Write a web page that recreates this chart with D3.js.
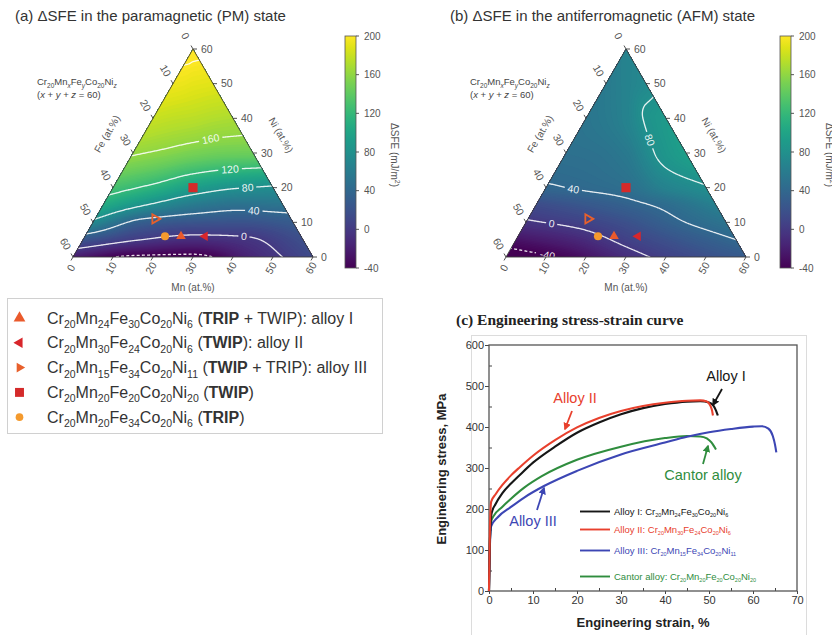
<!DOCTYPE html>
<html>
<head>
<meta charset="utf-8">
<script src="https://cdn.jsdelivr.net/npm/d3@7/dist/d3.min.js"></script>
<style>
  html, body { margin: 0; padding: 0; background: #fff; }
  svg { display: block; font-family: "Liberation Sans", Arial, Helvetica, sans-serif; }
</style>
</head>
<body>
<svg id="fig" width="832" height="635" viewBox="0 0 832 635"></svg>
<script>
// ---------- ΔSFE maps (mJ/m²) over the Cr20MnxFeyCo20Niz section (x + y + z = 60) ----------
// rows: Ni content (at.%); columns: Mn share of the remaining Mn + Fe (0 = Fe side, 1 = Mn side)
const niLevels = [0, 5, 10, 15, 20, 30, 40, 50, 60];
const mnShare = [0, 0.25, 0.5, 0.75, 1];
const sfePM = [
  [-22, -44, -46, -14, 14],
  [23, 1, -9, -3, 18],
  [73, 31, 23, 21, 28],
  [106, 79, 58, 49, 52],
  [129, 114, 94, 82, 77],
  [162, 157, 151, 147, 146],
  [180, 177, 175, 172, 170],
  [194, 193, 191, 190, 189],
  [205, 205, 205, 205, 205]
];
const sfeAFM = [
  [-52, -37, -9, 12, 28],
  [-28, -15, 6, 24, 40],
  [-3, 6, 19, 37, 52],
  [15, 24, 34, 46, 64],
  [38, 42, 47, 66, 78],
  [48, 50, 57, 81, 95],
  [53, 58, 66, 82, 90],
  [58, 62, 66, 70, 74],
  [66, 66, 66, 66, 66]
];
const levelsPM = [-40, 0, 40, 80, 120, 160, 200];
const levelsAFM = [-40, 0, 40, 80];
// inline contour labels: [level, Mn, Ni]
const labelsPM = [[160, 16.6, 35.2], [120, 25.8, 26.8], [80, 33.5, 20.3], [40, 38.5, 13.4], [0, 39.7, 6.1]];
const labelsAFM = [[80, 19.2, 33.8], [40, 6.8, 20.5], [0, 6.5, 9.9], [-40, 9.8, 1.5]];
const ternaryTicks = [0, 10, 20, 30, 40, 50, 60];
const colorbarTicks = [-40, 0, 40, 80, 120, 160, 200];

// ---------- alloys ----------
const alloyMn = [24, 30, 15, 20, 20];
const alloyFe = [30, 24, 34, 20, 34];
const alloyNi = [6, 6, 11, 20, 6];
const alloyMain = ["TRIP", "TWIP", "TWIP", "TWIP", "TRIP"];
const alloyAlso = ["TWIP", "", "TRIP", "", ""];
const alloyTag = ["alloy I", "alloy II", "alloy III", "", ""];
const alloySymbol = ["tri-up", "tri-left", "tri-right", "square", "circle"];
const alloyColor = ["#ea5a2c", "#d8262b", "#e8602c", "#d42a2a", "#f49a2e"];

// ---------- engineering stress-strain curves ----------
const curveNames = ["Alloy I", "Alloy II", "Alloy III", "Cantor alloy"];
const curveColors = ["#161616", "#e8402d", "#3c46b4", "#2f8d3e"];
const curveMn = [24, 30, 15, 20];
const curveFe = [30, 24, 34, 20];
const curveNi = [6, 6, 11, 20];
const strainI   = [0, 0.2, 0.6, 1.5, 3, 5, 7, 10, 15, 20, 25, 30, 35, 40, 45, 48, 50, 51, 51.6, 52];
const stressI   = [0, 120, 190, 212, 238, 262, 283, 313, 352, 386, 411, 431, 446, 456, 462, 463, 460, 452, 440, 428];
const strainII  = [0, 0.2, 0.5, 1.5, 3, 5, 7, 10, 15, 20, 25, 30, 35, 40, 45, 48, 49.5, 50.3, 50.7, 50.9];
const stressII  = [0, 150, 218, 236, 258, 282, 302, 330, 368, 399, 422, 439, 451, 459, 464, 465, 462, 452, 440, 428];
const strainIII = [0, 0.2, 0.5, 2, 5, 8, 12.5, 20, 30, 40, 45, 50, 55, 60, 62, 63.5, 64.5, 65, 65.3];
const stressIII = [0, 110, 158, 180, 205, 228, 256, 293, 333, 362, 376, 387, 395, 401, 402, 396, 378, 357, 338];
const strainCan = [0, 0.2, 0.5, 1, 3, 5, 8, 12, 20, 30, 40, 45, 48, 49.5, 50.5, 51.2, 51.6];
const stressCan = [0, 120, 170, 182, 205, 225, 252, 280, 320, 352, 373, 378, 377, 372, 363, 352, 345];
const strainTicks = [0, 10, 20, 30, 40, 50, 60, 70];
const stressTicks = [0, 100, 200, 300, 400, 500, 600];

// ================= helpers =================
const svg = d3.select("#fig");
const defs = svg.append("defs");
svg.append("rect").attr("width", 832).attr("height", 635).attr("fill", "#fff");

const clamp = (v, a, b) => Math.max(a, Math.min(b, v));
const cmap = v => d3.interpolateViridis(clamp((v + 40) / 240, 0, 1));

function pchipSlopes(xs, ys) {
  const n = xs.length, h = [], d = [], m = new Array(n).fill(0);
  for (let i = 0; i < n - 1; i++) { h.push(xs[i + 1] - xs[i]); d.push((ys[i + 1] - ys[i]) / h[i]); }
  for (let i = 1; i < n - 1; i++) {
    if (d[i - 1] * d[i] > 0) {
      const w1 = 2 * h[i] + h[i - 1], w2 = h[i] + 2 * h[i - 1];
      m[i] = (w1 + w2) / (w1 / d[i - 1] + w2 / d[i]);
    }
  }
  m[0] = d[0]; m[n - 1] = d[n - 2];
  return m;
}
function pchip(xs, ys, ms, x) {
  const i = clamp(d3.bisectRight(xs, x) - 1, 0, xs.length - 2);
  const h = xs[i + 1] - xs[i], s = (x - xs[i]) / h;
  const h00 = (1 + 2 * s) * (1 - s) * (1 - s), h10 = s * (1 - s) * (1 - s);
  const h01 = s * s * (3 - 2 * s), h11 = s * s * (s - 1);
  return h00 * ys[i] + h10 * h * ms[i] + h01 * ys[i + 1] + h11 * h * ms[i + 1];
}
function makeField(table) {
  const rowSlopes = table.map(r => pchipSlopes(mnShare, r));
  return (ni, t) => {
    const col = table.map((r, i) => pchip(mnShare, r, rowSlopes[i], t));
    return pchip(niLevels, col, pchipSlopes(niLevels, col), ni);
  };
}

function rich(parent, x, y, segs, size, subSize, color) {
  const t = parent.append("text").attr("x", x).attr("y", y)
    .attr("font-size", size).attr("fill", color);
  let shifted = 0;
  segs.forEach(s => {
    const sp = t.append("tspan").text(s.t);
    const want = s.sub ? subSize * 0.42 : 0;
    if (want !== shifted) { sp.attr("dy", want - shifted); shifted = want; }
    if (s.sub) sp.attr("font-size", subSize);
    if (s.b) sp.attr("font-weight", "bold");
    if (s.i) sp.attr("font-style", "italic");
  });
  return t;
}
const formulaSegs = (mn, fe, ni) => [
  { t: "Cr" }, { t: "20", sub: 1 }, { t: "Mn" }, { t: String(mn), sub: 1 },
  { t: "Fe" }, { t: String(fe), sub: 1 }, { t: "Co" }, { t: "20", sub: 1 },
  { t: "Ni" }, { t: String(ni), sub: 1 }];

function marker(parent, kind, x, y, size, color, hollow) {
  const sym = kind === "square" ? d3.symbolSquare : kind === "circle" ? d3.symbolCircle : d3.symbolTriangle;
  const rot = kind === "tri-left" ? -90 : kind === "tri-right" ? 90 : 0;
  const p = parent.append("path").attr("d", d3.symbol(sym, size)())
    .attr("transform", `translate(${x},${y}) rotate(${rot})`);
  if (hollow) p.attr("fill", "none").attr("stroke", color).attr("stroke-width", 1.8);
  else p.attr("fill", color);
  return p;
}

// vertical viridis gradient for the colour bars
const grad = defs.append("linearGradient").attr("id", "viridisBar")
  .attr("x1", 0).attr("y1", 1).attr("x2", 0).attr("y2", 0);
d3.range(0, 1.0001, 0.05).forEach(f => grad.append("stop").attr("offset", f).attr("stop-color", d3.interpolateViridis(f)));

// ================= ternary panels =================
function ternaryPanel(o) {
  const ox = o.ox;
  const BL = [73 + ox, 257], BR = [313 + ox, 257], T = [193 + ox, 49];
  const Ht = BL[1] - T[1];
  const toXY = (mn, ni) => {
    const fe = 60 - mn - ni;
    return [(fe * BL[0] + mn * BR[0] + ni * T[0]) / 60, (fe * BL[1] + mn * BR[1] + ni * T[1]) / 60];
  };
  const field = makeField(o.table);
  const valueAt = (x, y) => {
    const ni = clamp((BL[1] - y) / Ht * 60, 0, 60);
    const xl = BL[0] + (T[0] - BL[0]) * ni / 60, xr = BR[0] - (BR[0] - T[0]) * ni / 60;
    const t = xr - xl > 1e-6 ? clamp((x - xl) / (xr - xl), 0, 1) : 0.5;
    return field(ni, t);
  };

  // sample grid
  const pad = 4;
  const gx0 = BL[0] - pad, gy0 = T[1] - pad;
  const nx = Math.ceil(BR[0] - BL[0]) + 2 * pad + 1, ny = Math.ceil(Ht) + 2 * pad + 1;
  const values = new Float64Array(nx * ny);
  for (let j = 0; j < ny; j++) for (let i = 0; i < nx; i++) values[j * nx + i] = valueAt(gx0 + i, gy0 + j);
  const gp = d3.geoPath();
  const shift = `translate(${gx0 - 0.5},${gy0 - 0.5})`;

  const tri = [BL, BR, T];
  defs.append("clipPath").attr("id", "clip" + o.id)
    .append("polygon").attr("points", tri.map(p => p.join(",")).join(" "));

  const g = svg.append("g");
  const clipG = g.append("g").attr("clip-path", `url(#clip${o.id})`);
  clipG.append("polygon").attr("points", tri.map(p => p.join(",")).join(" ")).attr("fill", cmap(-41));
  const bands = d3.contours().size([nx, ny]).thresholds(d3.range(-40, 206, 2))(values);
  clipG.append("g").attr("transform", shift).selectAll("path").data(bands).join("path")
    .attr("d", gp).attr("fill", d => cmap(d.value + 1));

  // inline label placement: snap each anchor onto its contour, orient along it
  const labs = o.labels.map(([lv, mn, ni]) => {
    let [x, y] = toXY(mn, ni);
    let gx = 0, gy = 0;
    for (let k = 0; k < 10; k++) {
      const v = valueAt(x, y);
      gx = valueAt(x + 0.5, y) - valueAt(x - 0.5, y);
      gy = valueAt(x, y + 0.5) - valueAt(x, y - 0.5);
      const g2 = gx * gx + gy * gy;
      if (g2 < 1e-9) break;
      let sx = (v - lv) / g2 * gx, sy = (v - lv) / g2 * gy;
      const len = Math.hypot(sx, sy);
      if (len > 5) { sx *= 5 / len; sy *= 5 / len; }
      x -= sx; y -= sy;
    }
    let ang = Math.atan2(-gx, gy) * 180 / Math.PI;
    while (ang > 90) ang -= 180;
    while (ang <= -90) ang += 180;
    const txt = String(lv);
    return { lv, x, y, ang, txt, w: txt.length * 6.2 + 5 };
  });

  const mask = defs.append("mask").attr("id", "mask" + o.id)
    .attr("maskUnits", "userSpaceOnUse").attr("x", 0).attr("y", 0).attr("width", 832).attr("height", 635);
  mask.append("rect").attr("width", 832).attr("height", 635).attr("fill", "#fff");
  labs.forEach(l => mask.append("rect").attr("x", -l.w / 2).attr("y", -5.5).attr("width", l.w).attr("height", 11)
    .attr("transform", `translate(${l.x},${l.y}) rotate(${l.ang})`).attr("fill", "#000"));

  const lineG = clipG.append("g").attr("mask", `url(#mask${o.id})`);
  o.levels.forEach(lv => {
    const c = d3.contours().size([nx, ny]).thresholds([lv])(values)[0];
    lineG.append("path").attr("transform", shift).attr("d", gp(c))
      .attr("fill", "none").attr("stroke", "#fff").attr("stroke-opacity", 0.88)
      .attr("stroke-width", 1.3).attr("stroke-dasharray", lv < 0 ? "3,2.2" : null);
  });
  labs.forEach(l => g.append("text").attr("transform", `translate(${l.x},${l.y}) rotate(${l.ang})`)
    .attr("text-anchor", "middle").attr("dy", "0.35em").attr("font-size", 10.5)
    .attr("fill", "#fff").attr("fill-opacity", 0.92).text(l.txt));

  // frame
  g.append("polygon").attr("points", tri.map(p => p.join(",")).join(" "))
    .attr("fill", "none").attr("stroke", "#3c3c3c").attr("stroke-width", 0.9);

  // ticks and tick labels
  const dBot = [-0.5, 0.866], dLeft = [-0.5, -0.866], dRight = [1, 0];
  const tickG = g.append("g").attr("stroke", "#3c3c3c").attr("stroke-width", 0.9);
  const labG = g.append("g").attr("font-size", 10.5).attr("fill", "#555");
  ternaryTicks.forEach(v => {
    const pb = toXY(v, 0);
    tickG.append("line").attr("x1", pb[0]).attr("y1", pb[1]).attr("x2", pb[0] + dBot[0] * 4).attr("y2", pb[1] + dBot[1] * 4);
    labG.append("text").attr("transform", `translate(${pb[0] - 2},${pb[1] + 11}) rotate(-60)`)
      .attr("text-anchor", "middle").attr("dy", "0.35em").text(v);
    const pl = toXY(0, 60 - v);
    tickG.append("line").attr("x1", pl[0]).attr("y1", pl[1]).attr("x2", pl[0] + dLeft[0] * 4).attr("y2", pl[1] + dLeft[1] * 4);
    labG.append("text").attr("transform", `translate(${pl[0] + dLeft[0] * 15},${pl[1] + dLeft[1] * 15}) rotate(60)`)
      .attr("text-anchor", "middle").attr("dy", "0.35em").text(v);
    const pr = toXY(60 - v, v);
    tickG.append("line").attr("x1", pr[0]).attr("y1", pr[1]).attr("x2", pr[0] + dRight[0] * 4).attr("y2", pr[1]);
    labG.append("text").attr("x", pr[0] + 8).attr("y", pr[1]).attr("dy", "0.35em").text(v);
  });

  // axis titles
  const tl = g.append("g").attr("font-size", 10).attr("fill", "#555").attr("text-anchor", "middle");
  tl.append("text").attr("transform", `translate(${107 + ox},${134}) rotate(-60)`).attr("dy", "0.35em").text("Fe (at.%)");
  tl.append("text").attr("transform", `translate(${281 + ox},${135}) rotate(60)`).attr("dy", "0.35em").text("Ni (at.%)");
  tl.append("text").attr("x", 193 + ox).attr("y", 291).text("Mn (at.%)");

  // alloy markers
  alloyMn.forEach((mn, i) => {
    const [x, y] = toXY(mn, alloyNi[i]);
    const sizes = { "tri-up": 40, "tri-left": 40, "tri-right": 36, square: 84, circle: 52 };
    marker(g, alloySymbol[i], x, y, sizes[alloySymbol[i]], alloyColor[i], alloySymbol[i] === "tri-right");
  });

  // section formula
  rich(g, 37 + ox, 85, [{ t: "Cr" }, { t: "20", sub: 1 }, { t: "Mn" }, { t: "x", sub: 1, i: 1 }, { t: "Fe" }, { t: "y", sub: 1, i: 1 },
    { t: "Co" }, { t: "20", sub: 1 }, { t: "Ni" }, { t: "z", sub: 1, i: 1 }], 9.5, 6.5, "#444");
  rich(g, 37 + ox, 98, [{ t: "(" }, { t: "x", i: 1 }, { t: " + " }, { t: "y", i: 1 }, { t: " + " }, { t: "z", i: 1 }, { t: " = 60)" }], 9.5, 6.5, "#444");

  // colour bar
  const cb = o.cbX, cbTop = 36, cbBot = 268, cbW = 11;
  const cbScale = d3.scaleLinear([-40, 200], [cbBot, cbTop]);
  g.append("rect").attr("x", cb).attr("y", cbTop).attr("width", cbW).attr("height", cbBot - cbTop)
    .attr("fill", "url(#viridisBar)").attr("stroke", "#555").attr("stroke-width", 0.8);
  colorbarTicks.forEach(v => {
    g.append("line").attr("x1", cb + cbW).attr("x2", cb + cbW + 3).attr("y1", cbScale(v)).attr("y2", cbScale(v))
      .attr("stroke", "#444").attr("stroke-width", 0.9);
    g.append("text").attr("x", cb + cbW + 8).attr("y", cbScale(v)).attr("dy", "0.35em")
      .attr("font-size", 10).attr("fill", "#555").text(v);
  });
  const lab = g.append("text").attr("transform", `translate(${o.cbLabelX},${155}) rotate(90)`)
    .attr("text-anchor", "middle").attr("font-size", 10).attr("fill", "#555");
  lab.append("tspan").text("ΔSFE (mJ/m");
  lab.append("tspan").attr("font-size", 7).attr("dy", -4).text("2");
  lab.append("tspan").attr("dy", 4).text(")");

  svg.append("text").attr("x", o.titleX).attr("y", 21).attr("font-size", 15).attr("fill", "#333").text(o.title);
}

ternaryPanel({ id: "PM", ox: 0, table: sfePM, levels: levelsPM, labels: labelsPM, cbX: 345, cbLabelX: 391,
  titleX: 15, title: "(a) ΔSFE in the paramagnetic (PM) state" });
ternaryPanel({ id: "AFM", ox: 433, table: sfeAFM, levels: levelsAFM, labels: labelsAFM, cbX: 780, cbLabelX: 826,
  titleX: 450, title: "(b) ΔSFE in the antiferromagnetic (AFM) state" });

// ================= alloy legend =================
{
  const lg = svg.append("g");
  lg.append("rect").attr("x", 7.5).attr("y", 298.5).attr("width", 375).attr("height", 135)
    .attr("fill", "#fff").attr("stroke", "#d0d0d0").attr("stroke-width", 1);
  const legSizes = { "tri-up": 60, "tri-left": 48, "tri-right": 42, square: 80, circle: 46 };
  alloyMn.forEach((mn, i) => {
    const cy = 318 + i * 24.8;
    marker(lg, alloySymbol[i], 19.5, cy, legSizes[alloySymbol[i]], alloyColor[i], false);
    const segs = formulaSegs(mn, alloyFe[i], alloyNi[i]).concat([{ t: " (" }, { t: alloyMain[i], b: 1 }]);
    if (alloyAlso[i]) segs.push({ t: " + " + alloyAlso[i] });
    segs.push({ t: ")" + (alloyTag[i] ? ": " + alloyTag[i] : "") });
    rich(lg, 47, cy + 5.5, segs, 16, 10.5, "#333");
  });
}

// ================= stress-strain panel =================
{
  const cg = svg.append("g");
  const xS = d3.scaleLinear([0, 70], [489, 797]);
  const yS = d3.scaleLinear([0, 600], [591, 345]);
  cg.append("rect").attr("x", 471.5).attr("y", 335.5).attr("width", 335).attr("height", 310)
    .attr("fill", "none").attr("stroke", "#dcdcdc");
  cg.append("text").attr("x", 456).attr("y", 325).attr("font-family", "'Liberation Serif', 'Times New Roman', serif")
    .attr("font-size", 15.5).attr("font-weight", "bold").attr("fill", "#222").text("(c) Engineering stress-strain curve");

  const styleAxis = a => {
    a.select(".domain").remove();
    a.selectAll("line").attr("stroke", "#444").attr("stroke-width", 1);
    a.selectAll("text").attr("font-size", 11).attr("fill", "#333").attr("font-family", "'Liberation Sans', Arial, sans-serif");
  };
  cg.append("g").attr("transform", "translate(0,591)")
    .call(d3.axisBottom(xS).tickValues(strainTicks).tickSize(3).tickPadding(2)).call(styleAxis);
  cg.append("g").attr("transform", "translate(0,591)")
    .call(d3.axisBottom(xS).tickValues(d3.range(5, 70, 10)).tickSize(-3).tickFormat("")).call(styleAxis);
  cg.append("g").attr("transform", "translate(489,0)")
    .call(d3.axisLeft(yS).tickValues(stressTicks).tickSize(4).tickPadding(1)).call(styleAxis);
  cg.append("g").attr("transform", "translate(489,0)")
    .call(d3.axisLeft(yS).tickValues(d3.range(50, 600, 100)).tickSize(-3).tickFormat("")).call(styleAxis);
  cg.append("rect").attr("x", 489).attr("y", 345).attr("width", 308).attr("height", 246)
    .attr("fill", "none").attr("stroke", "#555").attr("stroke-width", 1.3);

  cg.append("text").attr("x", 643).attr("y", 627).attr("text-anchor", "middle").attr("font-size", 13)
    .attr("font-weight", "bold").attr("fill", "#222").text("Engineering strain, %");
  cg.append("text").attr("transform", "translate(446,469) rotate(-90)").attr("text-anchor", "middle")
    .attr("font-size", 13).attr("font-weight", "bold").attr("fill", "#222").text("Engineering stress, MPa");

  const series = [[strainI, stressI], [strainII, stressII], [strainIII, stressIII], [strainCan, stressCan]];
  const line = d3.line().x(d => xS(d[0])).y(d => yS(d[1])).curve(d3.curveMonotoneX);
  // Cantor drawn first, then III, I, II on top
  [3, 2, 0, 1].forEach(k => {
    const pts = series[k][0].map((s, i) => [s, series[k][1][i]]);
    cg.append("path").attr("d", line(pts)).attr("fill", "none")
      .attr("stroke", curveColors[k]).attr("stroke-width", 2.1).attr("stroke-linejoin", "round");
  });

  // legend
  const legY = [515, 533, 554, 580];
  curveNames.forEach((nm, k) => {
    cg.append("line").attr("x1", 580).attr("x2", 610).attr("y1", legY[k] - 3.5).attr("y2", legY[k] - 3.5)
      .attr("stroke", curveColors[k]).attr("stroke-width", 1.9);
    rich(cg, 614, legY[k], [{ t: nm + ": " }].concat(formulaSegs(curveMn[k], curveFe[k], curveNi[k])), 9.5, 5.5, curveColors[k]);
  });

  // annotations with arrows
  curveColors.forEach((c, k) => {
    const m = defs.append("marker").attr("id", "ah" + k).attr("viewBox", "0 0 10 10").attr("refX", 8).attr("refY", 5)
      .attr("markerWidth", 4.2).attr("markerHeight", 4.2).attr("orient", "auto");
    m.append("path").attr("d", "M0,0L10,5L0,10z").attr("fill", c);
  });
  const notes = [
    { k: 0, tx: 726, ty: 381, a: [722, 389, 713, 405] },
    { k: 1, tx: 575, ty: 403, a: [572, 411, 565, 429] },
    { k: 2, tx: 533, ty: 526, a: [537, 510, 544, 488] },
    { k: 3, tx: 703, ty: 480, a: [703, 464, 708, 446] }
  ];
  notes.forEach(n => {
    cg.append("text").attr("x", n.tx).attr("y", n.ty).attr("text-anchor", "middle").attr("font-size", 14.5)
      .attr("fill", curveColors[n.k]).text(curveNames[n.k]);
    cg.append("line").attr("x1", n.a[0]).attr("y1", n.a[1]).attr("x2", n.a[2]).attr("y2", n.a[3])
      .attr("stroke", curveColors[n.k]).attr("stroke-width", 1.8).attr("marker-end", `url(#ah${n.k})`);
  });
}
</script>
</body>
</html>
